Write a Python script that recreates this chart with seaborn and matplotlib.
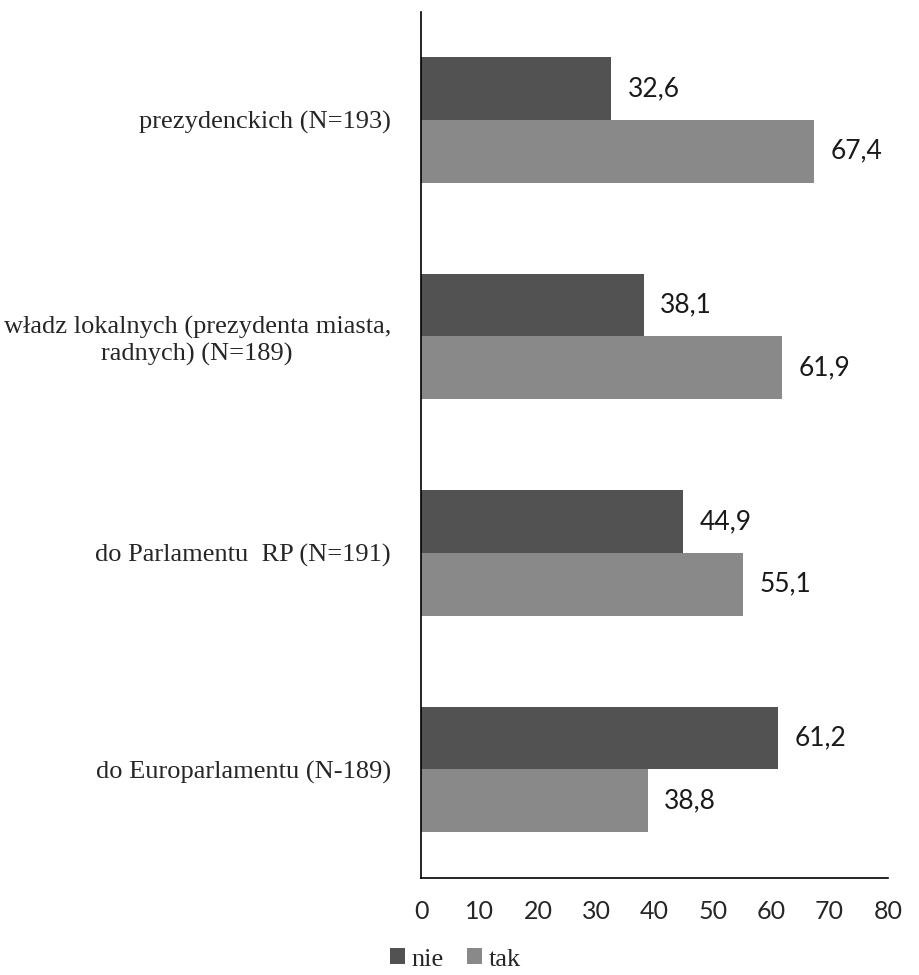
import matplotlib
matplotlib.use("Agg")
import matplotlib.pyplot as plt
import seaborn as sns
import pandas as pd
from matplotlib.patches import Patch

categories = [
    "prezydenckich (N=193)",
    "władz lokalnych (prezydenta miasta,\nradnych) (N=189)",
    "do Parlamentu  RP (N=191)",
    "do Europarlamentu (N-189)",
]
series = ["nie", "tak"]
nie_values = [32.6, 38.1, 44.9, 61.2]
tak_values = [67.4, 61.9, 55.1, 38.8]
x_ticks = [0, 10, 20, 30, 40, 50, 60, 70, 80]

colors = {"nie": "#525252", "tak": "#898989"}

df = pd.DataFrame({
    "kategoria": categories * 2,
    "seria": ["nie"] * 4 + ["tak"] * 4,
    "wartosc": nie_values + tak_values,
})

sns.set_theme(style="white")
plt.rcParams["font.family"] = ["Liberation Serif", "DejaVu Serif"]

fig = plt.figure(figsize=(9.2, 9.75), dpi=100)
ax = fig.add_axes([0.458, 0.100, 0.507, 0.888])

sns.barplot(data=df, y="kategoria", x="wartosc", hue="seria", order=categories,
            hue_order=series, palette=colors, orient="h", width=0.58,
            edgecolor="none", legend=False, ax=ax)

for container, s in zip(ax.containers, series):
    labels = [f"{v:.1f}".replace(".", ",") for v in container.datavalues]
    ax.bar_label(container, labels=labels, padding=12, fontsize=19,
                 family="Lato", color="#1a1a1a")

ax.set_xlim(0, 80)
ax.set_ylim(3.5, -0.5)
ax.set_xticks(x_ticks)
ax.set_xticklabels([str(t) for t in x_ticks], family="Lato", fontsize=18)
ax.set_yticks(range(len(categories)))
ax.set_yticklabels(categories, fontsize=19, ha="right", multialignment="center")
ax.set_yticks([-0.5, 0.5, 1.5, 2.5, 3.5], minor=True)
ax.tick_params(axis="y", which="major", length=0, pad=22)
ax.tick_params(axis="y", which="minor", length=7, width=1, color="black", direction="out")
ax.tick_params(axis="x", which="major", length=6, width=1, color="black",
               direction="out", pad=10)
ax.set_xlabel("")
ax.set_ylabel("")
for side in ["top", "right"]:
    ax.spines[side].set_visible(False)
for side in ["left", "bottom"]:
    ax.spines[side].set_color("black")
    ax.spines[side].set_linewidth(1.2)

handles = [Patch(facecolor=colors[s], edgecolor="none", label=s) for s in series]
fig.legend(handles=handles, loc="center", bbox_to_anchor=(0.495, 0.016), ncol=2,
           frameon=False, fontsize=19, handlelength=0.55, handleheight=0.55,
           handletextpad=0.25, columnspacing=0.9, borderpad=0.1)

fig.savefig("out.png", dpi=100, facecolor="white")
